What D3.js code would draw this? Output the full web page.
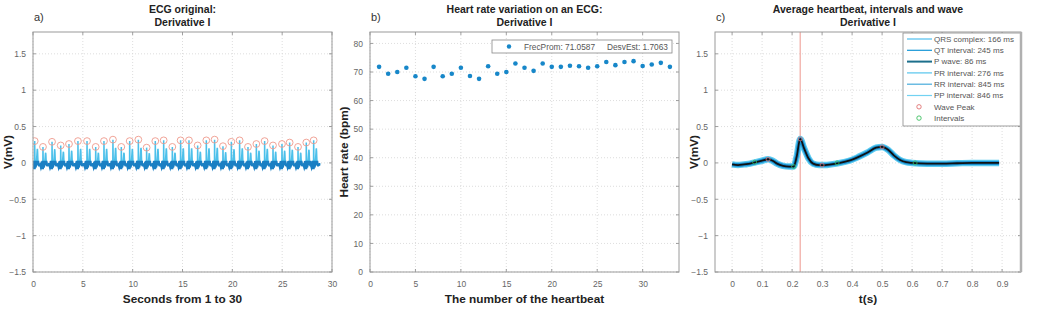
<!DOCTYPE html>
<html>
<head>
<meta charset="utf-8">
<script src="https://d3js.org/d3.v7.min.js"></script>
<style>
  body { margin: 0; background: #fff; }
  svg { display: block; font-family: "Liberation Sans", Arial, sans-serif; }
  .tick-label { font-size: 8.5px; fill: #666; }
  .title { font-size: 10.5px; font-weight: bold; fill: #222; }
  .axlabel { font-size: 11.8px; font-weight: bold; fill: #222; }
  .leg { font-size: 8px; fill: #555; }
  .grid { stroke: #d4d4d4; stroke-dasharray: 1,2; stroke-width: 0.8; }
</style>
</head>
<body>
<script>
// ---------------------------------------------------------------
// data
// ---------------------------------------------------------------
// a) R peaks of the raw ECG (s, mV)
var peakTimes = [0.17, 1.00, 1.91, 2.78, 3.61, 4.51, 5.42, 6.29, 7.12, 8.02, 8.86, 9.70,
                 10.57, 11.40, 12.27, 13.11, 13.98, 14.81, 15.65, 16.52, 17.39, 18.22, 19.06,
                 19.90, 20.73, 21.57, 22.41, 23.24, 24.08, 24.98, 25.75, 26.59, 27.42, 28.16];
var peakValues = [0.32, 0.24, 0.31, 0.26, 0.28, 0.32, 0.32, 0.24, 0.32, 0.34, 0.24, 0.32,
                  0.34, 0.23, 0.32, 0.33, 0.24, 0.33, 0.33, 0.26, 0.33, 0.34, 0.25, 0.31,
                  0.33, 0.24, 0.28, 0.32, 0.26, 0.28, 0.30, 0.24, 0.30, 0.33];

// b) heart rate for each beat (bpm)
var beatNumbers = d3.range(1, 34);
var heartRates = [71.8, 69.4, 70.0, 71.5, 68.5, 67.6, 71.8, 68.5, 69.4, 71.5, 68.6, 67.6,
                  72.0, 69.4, 70.0, 73.0, 71.5, 70.4, 73.0, 71.8, 71.8, 72.2, 72.0, 71.5,
                  72.0, 73.5, 72.4, 73.5, 73.8, 72.1, 72.6, 73.2, 71.8];
var legendB = ["FrecProm: 71.0587", "DesvEst: 1.7063"];

// c) average heartbeat (s, mV)
var beatT = [0.000, 0.020, 0.040, 0.060, 0.080, 0.100, 0.120, 0.135, 0.150, 0.170, 0.190, 0.205,
             0.215, 0.227, 0.240, 0.255, 0.270, 0.290, 0.310, 0.330, 0.360, 0.390, 0.420, 0.450,
             0.480, 0.500, 0.520, 0.540, 0.560, 0.580, 0.600, 0.650, 0.700, 0.750, 0.800, 0.850, 0.890];
var beatV = [-0.02, -0.03, -0.02, -0.01, 0.01, 0.03, 0.05, 0.03, -0.01, -0.04, -0.05, -0.05,
             0.08, 0.33, 0.20, 0.06, -0.01, -0.03, -0.03, -0.02, 0.00, 0.03, 0.08, 0.14,
             0.21, 0.22, 0.18, 0.10, 0.04, 0.01, 0.00, -0.01, -0.01, -0.005, 0.00, 0.00, 0.00];
var rPeakTime = 0.227;
var wavePeakT = [0.12, 0.227, 0.30, 0.50];
var wavePeakV = [0.05, 0.33, -0.03, 0.22];
var intervalT = [0.075, 0.205, 0.35, 0.61];
var intervalV = [0.01, -0.05, 0.00, 0.00];
var legendC = ["QRS complex: 166 ms", "QT interval: 245 ms", "P wave: 86 ms", "PR interval: 276 ms",
               "RR interval: 845 ms", "PP interval: 846 ms", "Wave Peak", "Intervals"];
var legendCColors = ["#4dbeee", "#1596d6", "#1c6f8c", "#55c4ec", "#47abdb", "#72d2f2"];

// tick labels
var voltTicks = [-1.5, -1, -0.5, 0, 0.5, 1, 1.5];
var secTicks = [0, 5, 10, 15, 20, 25, 30];
var bpmTicks = [0, 10, 20, 30, 40, 50, 60, 70, 80];
var beatTicks = [0, 5, 10, 15, 20, 25, 30];
var tTicks = [0, 0.1, 0.2, 0.3, 0.4, 0.5, 0.6, 0.7, 0.8, 0.9];

// ---------------------------------------------------------------
var W = 1040, H = 317;
var plotTop = 32, plotBottom = 272;

var svg = d3.select("body").append("svg").attr("width", W).attr("height", H);

function makePanel(o) {
  var g = svg.append("g");
  var x = d3.scaleLinear().domain(o.xdom).range([o.x0, o.x1]);
  var y = d3.scaleLinear().domain(o.ydom).range([plotBottom, plotTop]);
  // grid
  g.selectAll(".gx").data(o.xticks).enter().append("line").attr("class", "grid")
    .attr("x1", d => x(d)).attr("x2", d => x(d)).attr("y1", plotTop).attr("y2", plotBottom);
  g.selectAll(".gy").data(o.yticks).enter().append("line").attr("class", "grid")
    .attr("x1", o.x0).attr("x2", o.x1).attr("y1", d => y(d)).attr("y2", d => y(d));
  // axes
  var ax = g.append("g").attr("transform", "translate(0," + plotBottom + ")")
    .call(d3.axisBottom(x).tickValues(o.xticks).tickSize(0).tickPadding(9).tickFormat(d3.format("")));
  var ay = g.append("g").attr("transform", "translate(" + o.x0 + ",0)")
    .call(d3.axisLeft(y).tickValues(o.yticks).tickSize(0).tickPadding(7).tickFormat(d3.format("")));
  [ax, ay].forEach(function (a) {
    a.select(".domain").remove();
    a.selectAll("text").attr("class", "tick-label").attr("font-size", null).attr("fill", null)
      .attr("font-family", null);
  });
  // inner ticks on all sides
  var tk = g.append("g").attr("stroke", "#888").attr("stroke-width", 0.8);
  o.xticks.forEach(function (d) {
    tk.append("line").attr("x1", x(d)).attr("x2", x(d)).attr("y1", plotBottom).attr("y2", plotBottom - 3);
    tk.append("line").attr("x1", x(d)).attr("x2", x(d)).attr("y1", plotTop).attr("y2", plotTop + 3);
  });
  o.yticks.forEach(function (d) {
    tk.append("line").attr("x1", o.x0).attr("x2", o.x0 + 3).attr("y1", y(d)).attr("y2", y(d));
    tk.append("line").attr("x1", o.x1).attr("x2", o.x1 - 3).attr("y1", y(d)).attr("y2", y(d));
  });
  // clip
  var cid = "clip" + o.id;
  svg.append("clipPath").attr("id", cid).append("rect")
    .attr("x", o.x0).attr("y", plotTop).attr("width", o.x1 - o.x0).attr("height", plotBottom - plotTop);
  var plot = g.append("g").attr("clip-path", "url(#" + cid + ")");
  var mid = (o.x0 + o.x1) / 2;
  g.append("text").attr("class", "title").attr("x", mid).attr("y", 13).attr("text-anchor", "middle").text(o.title);
  g.append("text").attr("class", "title").attr("x", mid).attr("y", 26).attr("text-anchor", "middle").text("Derivative I");
  g.append("text").attr("x", o.x0 + 1).attr("y", 21).attr("font-size", 11).attr("fill", "#333").text(o.letter);
  g.append("text").attr("class", "axlabel").attr("x", mid).attr("y", 303).attr("text-anchor", "middle").text(o.xlabel);
  g.append("text").attr("class", "axlabel").attr("text-anchor", "middle")
    .attr("transform", "translate(" + o.ylx + "," + ((plotTop + plotBottom) / 2) + ") rotate(-90)").text(o.ylabel);
  return { g: g, x: x, y: y, plot: plot, o: o };
}

function drawBox(p) {
  p.g.append("rect").attr("x", p.o.x0).attr("y", plotTop).attr("width", p.o.x1 - p.o.x0)
    .attr("height", plotBottom - plotTop).attr("fill", "none").attr("stroke", "#9a9a9a").attr("stroke-width", 1);
}

// ---------------- a) ----------------
var pa = makePanel({ id: "a", x0: 33, x1: 332, xdom: [0, 30], ydom: [-1.5, 1.8],
  xticks: secTicks, yticks: voltTicks, title: "ECG original:", letter: "a)",
  xlabel: "Seconds from 1 to 30", ylabel: "V(mV)", ylx: 12 });

var sig = [];
peakTimes.forEach(function (pt, i) {
  var rr = i < peakTimes.length - 1 ? peakTimes[i + 1] - pt : 1;
  var k = peakValues[i] / 0.33;
  beatT.forEach(function (t, j) {
    if (t < rr) sig.push([pt + t - rPeakTime, beatV[j] * (beatV[j] > 0 ? k : 1) - 0.02]);
  });
});
var lineA = d3.line().x(d => pa.x(d[0])).y(d => pa.y(d[1]));
pa.plot.append("path").datum(sig).attr("d", lineA).attr("fill", "none")
  .attr("stroke", "#4cc0ea").attr("stroke-width", 1.5);
svg.append("clipPath").attr("id", "baseA").append("rect")
  .attr("x", 33).attr("y", pa.y(0.03)).attr("width", 299).attr("height", plotBottom - pa.y(0.03));
pa.plot.append("g").attr("clip-path", "url(#baseA)").append("path").datum(sig).attr("d", lineA)
  .attr("fill", "none").attr("stroke", "#1a7fc3").attr("stroke-width", 2.6);
pa.plot.selectAll(".pk").data(peakTimes).enter().append("circle")
  .attr("cx", d => pa.x(d)).attr("cy", (d, i) => pa.y(peakValues[i] - 0.02))
  .attr("r", 3.4).attr("fill", "none").attr("stroke", "#ee9a8c").attr("stroke-width", 0.9);
drawBox(pa);

// ---------------- b) ----------------
var pb = makePanel({ id: "b", x0: 370, x1: 679, xdom: [0, 34], ydom: [0, 84],
  xticks: beatTicks, yticks: bpmTicks, title: "Heart rate variation on an ECG:", letter: "b)",
  xlabel: "The number of the heartbeat", ylabel: "Heart rate (bpm)", ylx: 348 });
pb.plot.selectAll(".hr").data(heartRates).enter().append("circle")
  .attr("cx", (d, i) => pb.x(beatNumbers[i])).attr("cy", d => pb.y(d))
  .attr("r", 2.3).attr("fill", "#1787c9");
var lgB = pb.g.append("g");
lgB.append("rect").attr("x", 492).attr("y", 40).attr("width", 180).attr("height", 13)
  .attr("fill", "#fff").attr("stroke", "#888").attr("stroke-width", 0.8);
lgB.append("circle").attr("cx", 509).attr("cy", 46.5).attr("r", 2.2).attr("fill", "#1787c9");
lgB.append("text").attr("class", "leg").attr("x", 524).attr("y", 49.5).style("font-size", "8.3px").text(legendB[0]);
lgB.append("text").attr("class", "leg").attr("x", 607).attr("y", 49.5).style("font-size", "8.3px").text(legendB[1]);
drawBox(pb);

// ---------------- c) ----------------
var pc = makePanel({ id: "c", x0: 715, x1: 1021, xdom: [-0.057, 0.963], ydom: [-1.5, 1.8],
  xticks: tTicks, yticks: voltTicks, title: "Average heartbeat, intervals and wave", letter: "c)",
  xlabel: "t(s)", ylabel: "V(mV)", ylx: 698 });
pc.plot.append("line").attr("x1", pc.x(rPeakTime)).attr("x2", pc.x(rPeakTime))
  .attr("y1", plotTop).attr("y2", plotBottom).attr("stroke", "#f0a8a0").attr("stroke-width", 1.2);
var beat = beatT.map((t, i) => [t, beatV[i]]);
var lineC = d3.line().x(d => pc.x(d[0])).y(d => pc.y(d[1])).curve(d3.curveMonotoneX);
[["#5ccbf0", 6.5], ["#1b8fd0", 4], ["#111", 1.8]].forEach(function (s) {
  pc.plot.append("path").datum(beat).attr("d", lineC).attr("fill", "none")
    .attr("stroke", s[0]).attr("stroke-width", s[1]).attr("stroke-linejoin", "round");
});
pc.plot.selectAll(".wp").data(wavePeakT).enter().append("circle")
  .attr("cx", d => pc.x(d)).attr("cy", (d, i) => pc.y(wavePeakV[i]))
  .attr("r", 2).attr("fill", "none").attr("stroke", "#e07070").attr("stroke-width", 0.8);
pc.plot.selectAll(".iv").data(intervalT).enter().append("circle")
  .attr("cx", d => pc.x(d)).attr("cy", (d, i) => pc.y(intervalV[i]))
  .attr("r", 2).attr("fill", "none").attr("stroke", "#3cc060").attr("stroke-width", 0.8);
var lgC = pc.g.append("g");
lgC.append("rect").attr("x", 903).attr("y", 33).attr("width", 118).attr("height", 93)
  .attr("fill", "#fff").attr("stroke", "#888").attr("stroke-width", 0.8);
legendC.forEach(function (txt, i) {
  var yy = 39 + i * 11.3;
  if (i < 6) {
    lgC.append("line").attr("x1", 907).attr("x2", 932).attr("y1", yy).attr("y2", yy)
      .attr("stroke", legendCColors[i]).attr("stroke-width", i == 2 ? 2 : 1.2);
  } else {
    lgC.append("circle").attr("cx", 919).attr("cy", yy).attr("r", 2.2).attr("fill", "none")
      .attr("stroke", i == 6 ? "#e07070" : "#3cc060").attr("stroke-width", 0.9);
  }
  lgC.append("text").attr("class", "leg").attr("x", 934).attr("y", yy + 2.8).text(txt);
});
drawBox(pc);
// thick grey edge on the right of panel c
pc.g.append("line").attr("x1", 1021).attr("x2", 1021).attr("y1", plotTop).attr("y2", plotBottom)
  .attr("stroke", "#b0b0b0").attr("stroke-width", 2.5);
</script>
</body>
</html>
